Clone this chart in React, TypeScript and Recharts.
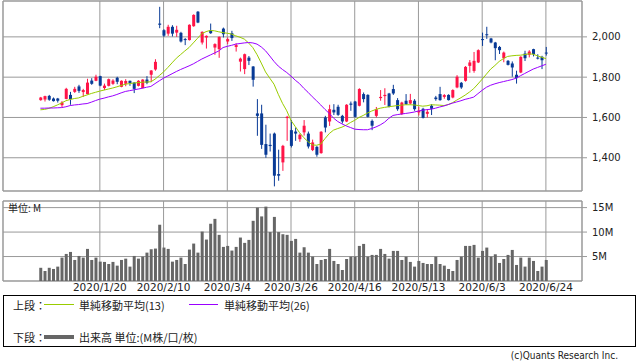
import React from "react";
import {
  ComposedChart,
  Bar,
  Line,
  XAxis,
  YAxis,
  CartesianGrid,
  ReferenceArea,
} from "recharts";

// ---- data ----
const tickIdx = [14, 29, 44, 59, 74, 89, 104, 119];
const tickLabels = [
  "2020/1/20",
  "2020/2/10",
  "2020/3/4",
  "2020/3/26",
  "2020/4/16",
  "2020/5/13",
  "2020/6/3",
  "2020/6/24",
];

const opens = [
  1686, 1689, 1707, 1694, 1694, 1661, 1692, 1712, 1727, 1754,
  1726, 1716, 1783, 1782, 1805, 1746, 1757, 1767, 1797, 1752,
  1767, 1782, 1773, 1757, 1746, 1788, 1812, 1838, 2066, 2033,
  2016, 2050, 2021, 2020, 1989, 1984, 2053, 2125, 1972, 1997,
  2033, 1947, 1939, 2041, 1977, 2018, 1950, 1877, 1840, 1897,
  1853, 1620, 1620, 1468, 1464, 1520, 1319, 1377, 1597, 1537,
  1530, 1492, 1526, 1520, 1438, 1454, 1423, 1600, 1580, 1638,
  1653, 1608, 1580, 1669, 1679, 1658, 1716, 1712, 1583, 1608,
  1696, 1706, 1719, 1741, 1686, 1617, 1683, 1669, 1683, 1625,
  1643, 1618, 1658, 1699, 1716, 1702, 1712, 1699, 1749, 1772,
  1782, 1856, 1831, 1873, 1989, 2013, 1992, 1972, 1950, 1894,
  1881, 1868, 1812, 1823, 1917, 1911, 1939, 1897, 1901, 1922,
];
const closes = [
  1699, 1706, 1688, 1681, 1683, 1674, 1742, 1691, 1742, 1732,
  1736, 1773, 1767, 1802, 1758, 1758, 1790, 1783, 1777, 1782,
  1781, 1771, 1742, 1782, 1788, 1772, 1833, 1876, 2060, 2006,
  2050, 2016, 2035, 1977, 1984, 2060, 2109, 2071, 2025, 2005,
  2018, 1964, 2000, 2013, 1989, 1994, 1959, 1892, 1914, 1881,
  1787, 1608, 1464, 1415, 1458, 1311, 1311, 1459, 1603, 1459,
  1520, 1514, 1559, 1456, 1476, 1415, 1529, 1550, 1641, 1625,
  1613, 1580, 1663, 1663, 1603, 1741, 1691, 1603, 1559, 1641,
  1702, 1712, 1653, 1719, 1641, 1674, 1666, 1686, 1641, 1633,
  1598, 1628, 1643, 1691, 1686, 1711, 1686, 1736, 1802, 1749,
  1851, 1873, 1881, 1934, 1984, 2008, 1972, 1944, 1934, 1922,
  1861, 1848, 1795, 1901, 1894, 1927, 1914, 1892, 1884, 1917,
];
const highs = [
  1702, 1708, 1712, 1699, 1697, 1681, 1747, 1727, 1752, 1762,
  1742, 1792, 1795, 1812, 1807, 1768, 1793, 1790, 1802, 1784,
  1790, 1783, 1775, 1785, 1790, 1805, 1835, 1889, 2149, 2038,
  2060, 2058, 2055, 2025, 1994, 2062, 2112, 2128, 2027, 2007,
  2066, 1968, 2002, 2046, 1997, 2030, 1968, 1897, 1917, 1905,
  1855, 1691, 1663, 1564, 1520, 1525, 1440, 1464, 1608, 1587,
  1550, 1520, 1587, 1530, 1490, 1459, 1532, 1608, 1663, 1666,
  1663, 1613, 1666, 1679, 1682, 1745, 1724, 1715, 1590, 1652,
  1736, 1745, 1722, 1762, 1696, 1678, 1716, 1717, 1691, 1653,
  1648, 1640, 1666, 1707, 1752, 1716, 1715, 1740, 1810, 1776,
  1855, 1885, 1925, 1938, 2021, 2050, 1995, 1975, 1955, 1927,
  1885, 1878, 1832, 1904, 1931, 1934, 1941, 1914, 1906, 1950,
];
const lows = [
  1683, 1679, 1683, 1679, 1674, 1649, 1690, 1663, 1722, 1722,
  1702, 1714, 1762, 1780, 1755, 1736, 1754, 1762, 1765, 1750,
  1755, 1757, 1721, 1754, 1744, 1765, 1775, 1832, 2043, 2000,
  2005, 2002, 2000, 1972, 1959, 1982, 2050, 2068, 1962, 1942,
  2015, 1911, 1896, 1997, 1964, 1980, 1927, 1828, 1815, 1860,
  1753, 1509, 1444, 1400, 1431, 1258, 1286, 1335, 1484, 1451,
  1484, 1479, 1510, 1446, 1433, 1405, 1420, 1526, 1558, 1612,
  1608, 1570, 1577, 1633, 1600, 1655, 1675, 1600, 1537, 1600,
  1683, 1662, 1650, 1712, 1633, 1612, 1662, 1665, 1633, 1610,
  1595, 1600, 1612, 1683, 1683, 1693, 1684, 1695, 1745, 1742,
  1778, 1822, 1822, 1870, 1955, 1990, 1968, 1884, 1915, 1874,
  1858, 1802, 1768, 1820, 1880, 1898, 1903, 1888, 1840, 1907,
];
const ma13 = [
  1638, 1640, 1645, 1653, 1662, 1672, 1683, 1689, 1694, 1697,
  1705, 1712, 1719, 1725, 1731, 1736, 1741, 1746, 1752, 1759,
  1765, 1768, 1771, 1773, 1775, 1776, 1777, 1790, 1808, 1826,
  1848, 1871, 1894, 1912, 1930, 1947, 1970, 1993, 2016, 2026,
  2032, 2030, 2025, 2021, 2018, 2014, 2005, 1998, 1989, 1970,
  1947, 1912, 1870, 1826, 1795, 1765, 1715, 1670, 1633, 1585,
  1555, 1525, 1500, 1480, 1464, 1462, 1468, 1495, 1520, 1537,
  1545, 1552, 1562, 1575, 1586, 1600, 1610, 1622, 1632, 1640,
  1646, 1650, 1653, 1656, 1659, 1661, 1663, 1663, 1662, 1659,
  1656, 1658, 1663, 1662, 1661, 1659, 1664, 1673, 1686, 1698,
  1711, 1726, 1743, 1766, 1790, 1815, 1840, 1858, 1878, 1892,
  1903, 1906, 1908, 1909, 1912, 1916, 1914, 1906, 1899, 1892,
];
const ma26 = [
  1646, 1646, 1647, 1647, 1648, 1649, 1653, 1659, 1662, 1664,
  1667, 1669, 1676, 1684, 1691, 1696, 1702, 1707, 1714, 1722,
  1729, 1733, 1737, 1741, 1745, 1750, 1754, 1768, 1782, 1795,
  1806, 1817, 1828, 1838, 1847, 1856, 1866, 1878, 1890, 1900,
  1910, 1920, 1930, 1947, 1953, 1958, 1964, 1967, 1970, 1972,
  1970, 1964, 1950, 1931, 1905, 1878, 1855, 1838, 1823, 1805,
  1785, 1768, 1745, 1725, 1703, 1683, 1662, 1640, 1620, 1597,
  1580, 1568, 1558, 1550, 1542, 1540, 1539, 1539, 1545, 1553,
  1563, 1576, 1595, 1610, 1614, 1617, 1620, 1623, 1627, 1632,
  1636, 1639, 1641, 1646, 1652, 1657, 1664, 1671, 1677, 1683,
  1690, 1695, 1701, 1718, 1735, 1750, 1760, 1767, 1773, 1778,
  1783, 1788, 1795, 1807, 1818, 1829, 1840, 1848, 1856, 1864,
];
const volumes = [
  2.7, 2.05, 2.7, 2.46, 2.94, 4.78, 5.53, 5.94, 4.3, 5.12,
  4.78, 6.56, 4.3, 4.78, 3.96, 3.9, 3.48, 3.9, 3.14, 4.3,
  4.57, 2.94, 5.12, 4.57, 4.98, 5.8, 6.49, 6.63, 11.5, 6.83,
  6.56, 3.96, 4.3, 4.78, 3.48, 6.42, 7.65, 5.8, 10.1, 8.47,
  11.7, 12.7, 9.43, 6.97, 7.17, 6.22, 6.97, 8.88, 7.79, 8.4,
  12.3, 15.0, 13.2, 15.2, 10.0, 13.1, 10.0, 9.56, 9.43, 8.2,
  8.6, 5.8, 6.9, 5.8, 4.98, 3.48, 4.3, 4.5, 6.56, 4.1,
  3.48, 2.25, 4.5, 4.98, 4.98, 7.17, 7.58, 4.98, 5.33, 5.33,
  6.56, 5.53, 4.57, 6.15, 6.15, 4.3, 4.98, 3.9, 2.94, 4.1,
  3.69, 3.48, 3.48, 4.98, 3.48, 3.14, 2.46, 2.05, 4.3, 4.98,
  7.17, 7.17, 7.38, 4.78, 6.15, 6.83, 4.98, 5.46, 3.69, 4.5,
  5.33, 6.35, 3.28, 4.78, 2.94, 4.78, 4.1, 2.05, 2.94, 4.3,
];
const priceTicks = [1400, 1600, 1800, 2000];
const volTicks = [5, 10, 15];

// ---- styling ----
const RED = "#ff1447";
const BLUE = "#083a96";
const GREEN = "#99cc00";
const PURPLE = "#9a00ff";
const GRID = "#999999";
const VOL = "#666666";
const XDOMAIN: [number, number] = [-8.8, 127.5];
const PDOMAIN: [number, number] = [1235, 2178];
const VDOMAIN: [number, number] = [0, 16.35];
const LATIN = "'DejaVu Sans', sans-serif";
const NARROW = "'Liberation Sans Narrow', 'DejaVu Sans Condensed', 'Liberation Sans', sans-serif";
const CJK = "'Noto Sans CJK JP', 'DejaVu Sans', sans-serif";

const data = opens.map((o, i) => ({
  i,
  open: o,
  high: highs[i],
  low: lows[i],
  close: closes[i],
  range: [lows[i], highs[i]],
  ma13: ma13[i],
  ma26: ma26[i],
  vol: volumes[i],
}));

const Candle = (props: any) => {
  const { x, y, width, height, payload } = props;
  if (!payload) return null;
  const { open, close, high, low } = payload;
  const color = close >= open ? RED : BLUE;
  const k = high > low ? height / (high - low) : 0;
  const yTop = y + (high - Math.max(open, close)) * k;
  const yBot = y + (high - Math.min(open, close)) * k;
  const cx = x + width / 2;
  return (
    <g>
      <line x1={cx} x2={cx} y1={y} y2={y + height} stroke={color} strokeWidth={1} />
      <rect x={x} y={yTop} width={width} height={Math.max(1, yBot - yTop)} fill={color} />
    </g>
  );
};

const labelFor = (v: number) => {
  const k = tickIdx.indexOf(v);
  return k >= 0 ? tickLabels[k] : "";
};

export default function App() {
  return (
    <div
      style={{
        position: "absolute",
        left: 0,
        top: 0,
        width: 638,
        height: 362,
        background: "#fff",
        overflow: "hidden",
      }}
    >
      <div style={{ position: "absolute", left: 0, top: 0 }}>
        <ComposedChart
          width={638}
          height={192}
          data={data}
          margin={{ top: 1, right: 0, bottom: 1, left: 3 }}
        >
          <XAxis
            dataKey="i"
            type="number"
            domain={XDOMAIN}
            ticks={tickIdx}
            allowDataOverflow
            hide
          />
          <YAxis
            orientation="right"
            width={56}
            domain={PDOMAIN}
            ticks={priceTicks}
            allowDataOverflow
            axisLine={false}
            tickLine={{ stroke: GRID }}
            tickSize={5}
            tickMargin={5}
            tickFormatter={(v: number) => v.toLocaleString("en-US")}
            tick={{ fontSize: 10, fill: "#222", fontFamily: LATIN, textAnchor: "start" }}
          />
          <CartesianGrid stroke={GRID} strokeWidth={1} />
          <ReferenceArea
            x1={XDOMAIN[0]}
            x2={XDOMAIN[1]}
            y1={PDOMAIN[0]}
            y2={PDOMAIN[1]}
            fill="none"
            stroke={GRID}
            strokeWidth={1}
            ifOverflow="extendDomain"
          />
          <Bar dataKey="range" barSize={3} shape={<Candle />} isAnimationActive={false} />
          <Line
            dataKey="ma13"
            type="linear"
            stroke={GREEN}
            strokeWidth={1}
            dot={false}
            isAnimationActive={false}
          />
          <Line
            dataKey="ma26"
            type="linear"
            stroke={PURPLE}
            strokeWidth={1}
            dot={false}
            isAnimationActive={false}
          />
        </ComposedChart>
      </div>

      <div style={{ position: "absolute", left: 0, top: 195 }}>
        <ComposedChart
          width={638}
          height={106}
          data={data}
          margin={{ top: 6, right: 0, bottom: 6, left: 3 }}
        >
          <XAxis
            dataKey="i"
            type="number"
            domain={XDOMAIN}
            ticks={tickIdx}
            allowDataOverflow
            height={14}
            axisLine={false}
            tickLine={false}
            tickSize={0}
            tickMargin={3}
            interval={0}
            tickFormatter={labelFor}
            tick={{ fontSize: 10.5, fill: "#222", fontFamily: LATIN }}
          />
          <YAxis
            orientation="right"
            width={56}
            domain={VDOMAIN}
            ticks={volTicks}
            allowDataOverflow
            axisLine={false}
            tickLine={{ stroke: GRID }}
            tickSize={5}
            tickMargin={5}
            tickFormatter={(v: number) => v + "M"}
            tick={{ fontSize: 10, fill: "#222", fontFamily: LATIN, textAnchor: "start" }}
          />
          <CartesianGrid stroke={GRID} strokeWidth={1} />
          <ReferenceArea
            x1={XDOMAIN[0]}
            x2={XDOMAIN[1]}
            y1={VDOMAIN[0]}
            y2={VDOMAIN[1]}
            fill="none"
            stroke={GRID}
            strokeWidth={1}
          />
          <Bar dataKey="vol" barSize={3} fill={VOL} isAnimationActive={false} />
        </ComposedChart>
        <div
          style={{
            position: "absolute",
            left: 8,
            top: 8,
            fontSize: 10,
            lineHeight: "10px",
            fontFamily: CJK,
            color: "#222",
            whiteSpace: "nowrap",
          }}
        >
          単位: M
        </div>
      </div>

      {/* legend */}
      <div
        style={{
          position: "absolute",
          left: 3,
          top: 295,
          width: 631,
          height: 50,
          border: "1px solid #000",
          fontFamily: CJK,
          fontSize: 11,
          color: "#222",
        }}
      >
        <div style={{ position: "absolute", left: 9, top: 2, lineHeight: "14px", whiteSpace: "nowrap" }}>
          上段：
        </div>
        <div style={{ position: "absolute", left: 40, top: 8, width: 30, height: 1, background: GREEN }} />
        <div style={{ position: "absolute", left: 75, top: 2, lineHeight: "14px", whiteSpace: "nowrap" }}>
          単純移動平均(13)
        </div>
        <div style={{ position: "absolute", left: 185, top: 8, width: 29, height: 1, background: PURPLE }} />
        <div style={{ position: "absolute", left: 220, top: 2, lineHeight: "14px", whiteSpace: "nowrap" }}>
          単純移動平均(26)
        </div>
        <div style={{ position: "absolute", left: 9, top: 34, lineHeight: "14px", whiteSpace: "nowrap" }}>
          下段：
        </div>
        <div style={{ position: "absolute", left: 40, top: 39, width: 30, height: 4, background: VOL }} />
        <div style={{ position: "absolute", left: 75, top: 34, lineHeight: "14px", whiteSpace: "nowrap" }}>
          出来高 単位:(M株/口/枚)
        </div>
      </div>

      <div
        style={{
          position: "absolute",
          right: 20,
          top: 350,
          fontSize: 10,
          lineHeight: "12px",
          fontFamily: NARROW,
          color: "#222",
          whiteSpace: "nowrap",
        }}
      >
        (c)Quants Research Inc.
      </div>
    </div>
  );
}
